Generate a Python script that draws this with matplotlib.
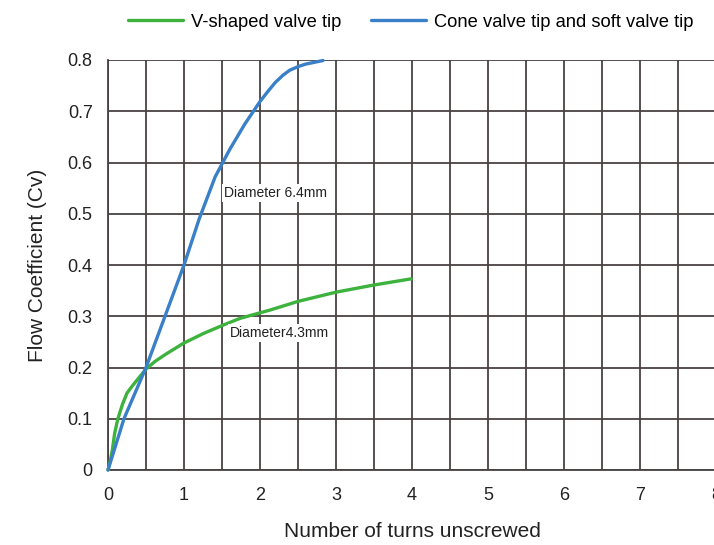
import matplotlib
matplotlib.use("Agg")
import matplotlib.pyplot as plt
import numpy as np

plt.rcParams['font.family'] = ['Liberation Sans', 'DejaVu Sans']

v_x = [0, 0.03, 0.057, 0.088, 0.13, 0.19, 0.25, 0.32, 0.385, 0.5, 0.62, 0.75, 0.87, 0.99, 1.25, 1.52, 1.74, 2.13, 2.5, 3.0, 3.5, 3.99]
v_y = [0, 0.018, 0.039, 0.072, 0.1, 0.128, 0.15, 0.164, 0.176, 0.197, 0.212, 0.225, 0.236, 0.247, 0.266, 0.283, 0.296, 0.312, 0.329, 0.347, 0.361, 0.373]

c_x = [0, 0.21, 0.5, 0.75, 1.0, 1.2, 1.41, 1.6, 1.8, 2.0, 2.1, 2.2, 2.3, 2.39, 2.5, 2.6, 2.7, 2.83]
c_y = [0, 0.1, 0.2, 0.3, 0.4, 0.49, 0.572, 0.625, 0.675, 0.719, 0.738, 0.756, 0.77, 0.78, 0.787, 0.792, 0.795, 0.799]

x_ticks = [0, 1, 2, 3, 4, 5, 6, 7, 8]
y_ticks = [0, 0.1, 0.2, 0.3, 0.4, 0.5, 0.6, 0.7, 0.8]
y_labels = ['0', '0.1', '0.2', '0.3', '0.4', '0.5', '0.6', '0.7', '0.8']

fig = plt.figure(figsize=(7.14, 5.45), dpi=100)
ax = fig.add_axes([108/714, 75/545, 608/714, 410/545])

grid_c = '#4a4242'
ax.set_xlim(0, 8)
ax.set_ylim(0, 0.8)
ax.set_xticks(x_ticks)
ax.set_xticks(np.arange(0, 8.01, 0.5), minor=True)
ax.set_yticks(y_ticks)
ax.set_yticklabels(y_labels)
ax.grid(True, which='both', axis='x', color=grid_c, lw=1.3)
ax.grid(True, which='major', axis='y', color=grid_c, lw=1.3)
ax.tick_params(which='both', length=0, labelsize=13, colors='#222222')
ax.tick_params(axis='x', pad=12)
ax.tick_params(axis='y', pad=11)
for s in ['top', 'right']:
    ax.spines[s].set_visible(False)
for s in ['left', 'bottom']:
    ax.spines[s].set_color(grid_c)
    ax.spines[s].set_linewidth(1.3)
ax.set_axisbelow(True)

green = '#3db23d'
blue = '#3a80c8'
ax.plot(v_x, v_y, color=green, lw=2.4, label='V-shaped valve tip', clip_on=False,
        zorder=3, solid_joinstyle='round', solid_capstyle='round')
ax.plot(c_x, c_y, color=blue, lw=2.4, label='Cone valve tip and soft valve tip', clip_on=False,
        zorder=3, solid_joinstyle='round', solid_capstyle='round')

bbox = dict(facecolor='white', edgecolor='none', pad=1.5)
ax.text(1.53, 0.54, 'Diameter 6.4mm', fontsize=10, color='#222222', va='center', ha='left', bbox=bbox, zorder=4)
ax.text(1.6, 0.268, 'Diameter4.3mm', fontsize=10, color='#222222', va='center', ha='left', bbox=bbox, zorder=4)

ax.set_xlabel('Number of turns unscrewed', fontsize=15, color='#222222', labelpad=13)
ax.set_ylabel('Flow Coefficient (Cv)', fontsize=15, color='#222222', labelpad=15)

fig.legend(loc='upper center', bbox_to_anchor=(0.575, 1.005), ncol=2, frameon=False,
           fontsize=13.2, handlelength=3.0, columnspacing=1.6, handletextpad=0.45)

fig.savefig('out.png', dpi=100)
